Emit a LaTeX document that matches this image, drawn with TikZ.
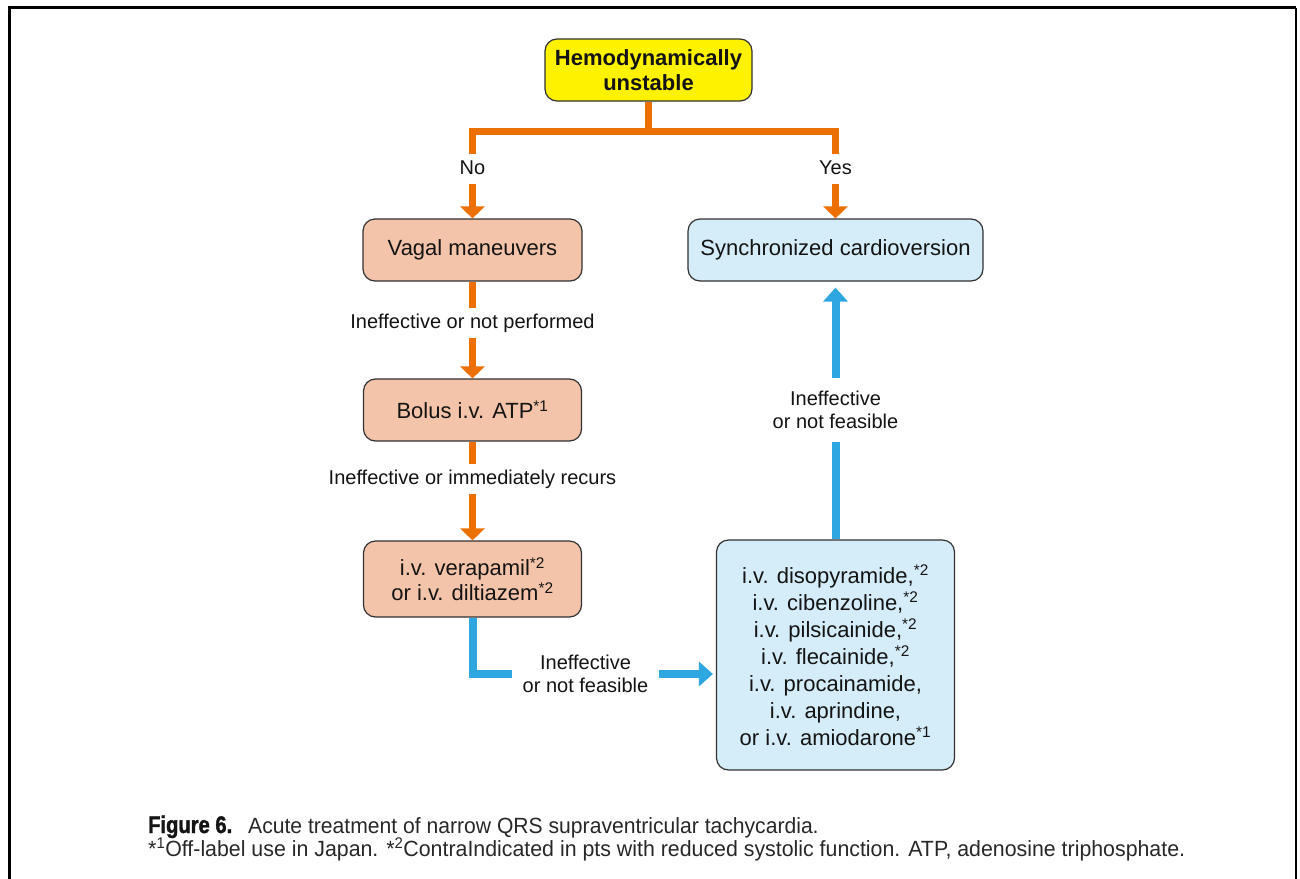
\documentclass[tikz,border=0pt]{standalone}
\usepackage{fontspec}
\setmainfont{Liberation Sans}
\newfontfamily\capfont[FakeStretch=0.96]{Liberation Sans}
\newfontfamily\notefont[FakeStretch=0.97]{Liberation Sans}
\newfontfamily\figfont[FakeStretch=0.84,FakeBold=1.5]{Liberation Sans}
\usetikzlibrary{arrows.meta}
\definecolor{orng}{RGB}{236,112,0}
\definecolor{cyanline}{RGB}{46,167,224}
\definecolor{yel}{RGB}{255,242,0}
\definecolor{salmon}{RGB}{244,196,170}
\definecolor{paleblue}{RGB}{213,236,249}
\definecolor{boxedge}{RGB}{50,50,50}
\definecolor{ink}{RGB}{20,20,20}
\definecolor{capink}{RGB}{40,40,40}

\begin{document}
\begin{tikzpicture}[x=1pt,y=-1pt,
  box/.style={draw=boxedge,line width=1.2pt,rounded corners=12pt,align=center,
    text=ink,inner sep=0pt,font=\fontsize{22}{25}\selectfont},
  decision/.style={box,fill=yel,font=\fontsize{22}{25}\selectfont\bfseries},
  treat/.style={box,fill=salmon},
  rescue/.style={box,fill=paleblue},
  lbl/.style={font=\fontsize{20}{23}\selectfont,text=ink,inner xsep=10pt,
    inner ysep=6pt,text height=14pt,text depth=4pt},
  lbltwo/.style={font=\fontsize{20}{23}\selectfont,text=ink,align=center,
    inner xsep=10pt,inner ysep=13pt},
  oline/.style={draw=orng,line width=7pt,line join=miter},
  oarrow/.style={oline,-{Triangle[width=24pt,length=12pt]}},
  bline/.style={draw=cyanline,line width=8pt,line join=miter},
  barrow/.style={bline,-{Triangle[width=24pt,length=14pt]}},
]
\useasboundingbox (0,0) rectangle (1300,878);
\fill[white] (0,0) rectangle (1300,878);

% outer frame, open at the bottom
\draw[line width=3pt,black] (9.5,880) -- (9.5,7.5) -- (1296,7.5);
\draw[line width=2pt,black] (1296,7.5) -- (1296,880);

% boxes
\node[decision,minimum width=207pt,minimum height=62pt] (top) at (648.5,70)
  {Hemodynamically\\unstable};
\node[treat,minimum width=219pt,minimum height=62pt] (vagal) at (472.5,250)
  {Vagal maneuvers};
\node[rescue,minimum width=295pt,minimum height=62pt] (synch) at (835.5,250)
  {Synchronized cardioversion};
\node[treat,minimum width=218pt,minimum height=62pt] (bolus) at (472.5,410)
  {Bolus i.v. ATP\textsuperscript{*1}};
\node[treat,minimum width=218pt,minimum height=76pt] (verap) at (472.5,579)
  {i.v. verapamil\textsuperscript{*2}\\or i.v. diltiazem\textsuperscript{*2}};
\node[rescue,minimum width=238pt,minimum height=230pt,
  font=\fontsize{22}{27}\selectfont] (big) at (835.5,655)
  {i.v. disopyramide,\textsuperscript{*2}\\
   i.v. cibenzoline,\textsuperscript{*2}\\
   i.v. pilsicainide,\textsuperscript{*2}\\
   i.v. flecainide,\textsuperscript{*2}\\
   i.v. procainamide,\\
   i.v. aprindine,\\
   or i.v. amiodarone\textsuperscript{*1}};

% connector labels
\node[lbl] (no) at (472.5,169) {No};
\node[lbl] (yes) at (835.5,169) {Yes};
\node[lbl] (lab1) at (472.5,323) {Ineffective or not performed};
\node[lbl] (lab2) at (472.5,479) {Ineffective or immediately recurs};
\node[lbltwo] (lab3) at (585.5,674) {Ineffective\\or not feasible};
\node[lbltwo] (lab4) at (835.5,410) {Ineffective\\or not feasible};

% orange branch from the decision
\coordinate (fork) at (648.5,131.5);
\draw[oline] (top.south) -- (fork);
\draw[oline] (no.north) |- (fork) -| (yes.north);
\draw[oarrow] (no.south) -- (vagal.north);
\draw[oarrow] (yes.south) -- (synch.north);

% orange chain on the left
\draw[oline] (vagal.south) -- (lab1.north);
\draw[oarrow] (lab1.south) -- (bolus.north);
\draw[oline] (bolus.south) -- (lab2.north);
\draw[oarrow] (lab2.south) -- (verap.north);

% blue escalation
\draw[bline] (verap.south) |- (lab3.west);
\draw[barrow,shorten >=3pt] (lab3.east) -- (lab3.east -| big.west);
\draw[bline] (big.north) -- (lab4.south);
\draw[barrow,shorten >=6pt] (lab4.north) -- (lab4.north |- synch.south);

% caption
\node[anchor=base west,inner sep=0pt,text=ink,
  font=\figfont\fontsize{24}{26}\selectfont\bfseries] (figno) at (148,833) {Figure 6.};
\node[anchor=base west,inner sep=0pt,text=capink,
  font=\capfont\fontsize{22}{24}\selectfont] (captitle) at (248,833)
  {Acute treatment of narrow QRS supraventricular tachycardia.};
\node[anchor=base west,inner sep=0pt,text=capink,
  font=\notefont\fontsize{22}{24}\selectfont] (capnote) at (148,856)
  {*\textsuperscript{1}Off-label use in Japan. *\textsuperscript{2}ContraIndicated in pts with reduced systolic function. ATP, adenosine triphosphate.};
\end{tikzpicture}
\end{document}
